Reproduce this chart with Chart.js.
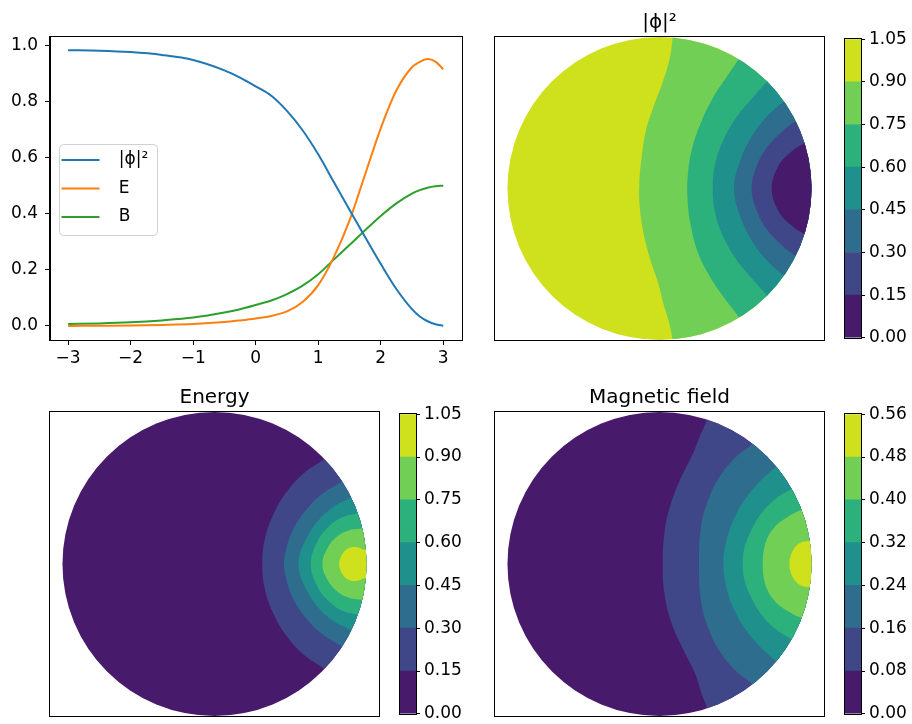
<!DOCTYPE html>
<html>
<head>
<meta charset="utf-8">
<script src="https://cdn.jsdelivr.net/npm/chart.js@4.4.1/dist/chart.umd.min.js"></script>
<style>
  body { margin: 0; background: #fff; }
  #fig { position: relative; width: 912px; height: 724px; overflow: hidden; }
  #fig canvas { position: absolute; }
</style>
</head>
<body>
<div id="fig">
  <canvas id="profileChart" width="470" height="372" style="left:0;top:0"></canvas>
  <canvas id="phiChart" width="333" height="341" style="left:493px;top:1px"></canvas>
  <canvas id="phiBar" width="78" height="327" style="left:843px;top:25px"></canvas>
  <canvas id="energyChart" width="333" height="342" style="left:48px;top:376px"></canvas>
  <canvas id="energyBar" width="78" height="328" style="left:398px;top:400px"></canvas>
  <canvas id="fieldChart" width="333" height="342" style="left:493px;top:376px"></canvas>
  <canvas id="fieldBar" width="78" height="328" style="left:843px;top:400px"></canvas>
</div>
<script>
Chart.defaults.font.family = "'DejaVu Sans', sans-serif";
Chart.defaults.font.size = 17;
Chart.defaults.color = '#000';
Chart.defaults.animation = false;

// profile along the real axis
const xs     = [-3, -2.5, -2, -1.5, -1, -0.5, -0.25, 0, 0.25, 0.5, 0.75, 1, 1.25, 1.5, 1.75, 2, 2.25, 2.5, 2.625, 2.75, 2.875, 3];
const phi2   = [0.985, 0.983, 0.978, 0.968, 0.950, 0.913, 0.887, 0.856, 0.822, 0.768, 0.699, 0.613, 0.514, 0.415, 0.318, 0.222, 0.132, 0.060, 0.034, 0.017, 0.006, 0.001];
const energy = [0.000, 0.001, 0.002, 0.004, 0.007, 0.014, 0.020, 0.027, 0.036, 0.052, 0.086, 0.146, 0.246, 0.376, 0.541, 0.706, 0.841, 0.924, 0.943, 0.953, 0.944, 0.917];
const field  = [0.007, 0.009, 0.013, 0.020, 0.030, 0.048, 0.060, 0.075, 0.091, 0.114, 0.144, 0.185, 0.237, 0.289, 0.342, 0.393, 0.438, 0.473, 0.485, 0.494, 0.499, 0.501];
const xTicks = [-3, -2, -1, 0, 1, 2, 3];
const yTicks = [0, 0.2, 0.4, 0.6, 0.8, 1.0];

// contour levels and band colours (viridis)
const levels      = [0, 0.15, 0.30, 0.45, 0.60, 0.75, 0.90, 1.05];
const fieldLevels = [0, 0.08, 0.16, 0.24, 0.32, 0.40, 0.48, 0.56];
const bandColors  = ['#481a6c', '#3f4788', '#2e6d8e', '#20908c', '#2cb17d', '#72cf55', '#cfe11c'];

// contour boundaries in the unit disk, top to bottom
// |phi|^2 : 0.90, 0.75, 0.60, 0.45, 0.30, 0.15
const phiCurves = [
  [[0.10,1.12],[0.087,1.0],[0.069,0.868],[0.025,0.714],[-0.04,0.538],[-0.089,0.385],[-0.117,0.209],[-0.133,0.033],[-0.128,-0.143],[-0.095,-0.341],[-0.052,-0.495],[-0.008,-0.626],[0.025,-0.758],[0.058,-0.868],[0.087,-1.0],[0.10,-1.12]],
  [[0.597,0.979],[0.519,0.851],[0.442,0.736],[0.354,0.604],[0.270,0.429],[0.212,0.253],[0.186,0.085],[0.184,-0.060],[0.203,-0.231],[0.255,-0.429],[0.332,-0.582],[0.420,-0.714],[0.519,-0.846],[0.597,-0.973]],
  [[0.81,0.81],[0.705,0.703],[0.617,0.604],[0.508,0.473],[0.420,0.319],[0.367,0.165],[0.350,0],[0.367,-0.165],[0.420,-0.319],[0.508,-0.473],[0.617,-0.604],[0.705,-0.703],[0.81,-0.81]],
  [[0.94,0.66],[0.815,0.571],[0.705,0.473],[0.606,0.341],[0.532,0.187],[0.490,0],[0.532,-0.187],[0.606,-0.341],[0.705,-0.473],[0.815,-0.571],[0.94,-0.66]],
  [[1.02,0.51],[0.891,0.440],[0.793,0.363],[0.694,0.253],[0.630,0.121],[0.606,0],[0.630,-0.121],[0.694,-0.253],[0.793,-0.363],[0.891,-0.440],[1.02,-0.51]],
  [[1.09,0.34],[0.951,0.297],[0.859,0.236],[0.782,0.148],[0.738,0],[0.782,-0.148],[0.859,-0.236],[0.951,-0.297],[1.09,-0.34]]
];
// energy : 0.15, 0.30, 0.45, 0.60, 0.75, 0.90
const energyCurves = [
  [[0.82,0.79],[0.716,0.687],[0.589,0.599],[0.469,0.467],[0.381,0.313],[0.330,0.159],[0.314,0],[0.330,-0.159],[0.381,-0.313],[0.469,-0.467],[0.589,-0.599],[0.716,-0.687],[0.82,-0.79]],
  [[0.96,0.62],[0.835,0.540],[0.716,0.467],[0.603,0.357],[0.516,0.225],[0.470,0.093],[0.457,0],[0.470,-0.093],[0.516,-0.225],[0.603,-0.357],[0.716,-0.467],[0.835,-0.540],[0.96,-0.62]],
  [[1.03,0.50],[0.897,0.434],[0.787,0.379],[0.677,0.280],[0.600,0.159],[0.563,0.072],[0.552,0],[0.563,-0.072],[0.600,-0.159],[0.677,-0.280],[0.787,-0.379],[0.897,-0.434],[1.03,-0.50]],
  [[1.09,0.385],[0.945,0.335],[0.831,0.302],[0.732,0.225],[0.666,0.126],[0.633,0],[0.666,-0.126],[0.732,-0.225],[0.831,-0.302],[0.945,-0.335],[1.09,-0.385]],
  [[1.12,0.27],[0.978,0.236],[0.897,0.225],[0.809,0.182],[0.743,0.104],[0.710,0],[0.743,-0.104],[0.809,-0.182],[0.897,-0.225],[0.978,-0.236],[1.12,-0.27]],
  [[1.1,0.11],[0.991,0.094],[0.941,0.111],[0.886,0.105],[0.842,0.067],[0.820,0],[0.842,-0.067],[0.886,-0.105],[0.941,-0.111],[0.991,-0.094],[1.1,-0.11]]
];
// magnetic field : 0.08, 0.16, 0.24, 0.32, 0.40, 0.48
const fieldCurves = [
  [[0.362,1.098],[0.315,0.955],[0.266,0.841],[0.212,0.709],[0.135,0.555],[0.069,0.379],[0.032,0.203],[0.021,0.006],[0.032,-0.192],[0.080,-0.390],[0.157,-0.566],[0.234,-0.720],[0.277,-0.852],[0.315,-0.950],[0.362,-1.098]],
  [[0.705,0.912],[0.613,0.793],[0.508,0.709],[0.398,0.577],[0.321,0.423],[0.273,0.247],[0.260,0],[0.273,-0.247],[0.321,-0.423],[0.398,-0.577],[0.508,-0.709],[0.613,-0.793],[0.705,-0.912]],
  [[0.88,0.734],[0.766,0.638],[0.683,0.566],[0.584,0.456],[0.497,0.313],[0.442,0.159],[0.420,0],[0.442,-0.159],[0.497,-0.313],[0.584,-0.456],[0.683,-0.566],[0.766,-0.638],[0.88,-0.734]],
  [[1.0,0.567],[0.869,0.493],[0.771,0.434],[0.672,0.335],[0.595,0.203],[0.556,0.093],[0.547,0],[0.556,-0.093],[0.595,-0.203],[0.672,-0.335],[0.771,-0.434],[0.869,-0.493],[1.0,-0.567]],
  [[1.075,0.41],[0.935,0.357],[0.848,0.313],[0.760,0.247],[0.705,0.160],[0.683,0.071],[0.679,0],[0.683,-0.071],[0.705,-0.160],[0.760,-0.247],[0.848,-0.313],[0.935,-0.357],[1.075,-0.41]],
  [[1.13,0.176],[0.986,0.153],[0.924,0.138],[0.880,0.094],[0.859,0.039],[0.854,0],[0.859,-0.039],[0.880,-0.094],[0.924,-0.138],[0.986,-0.153],[1.13,-0.176]]
];
const outside    = [[1.3, -1.3], [1.3, 1.3]];
const everywhere = [[-1.3, 1.3], [-1.3, -1.3], [1.3, -1.3], [1.3, 1.3]];

// black box round the plot area
const frame = {
  id: 'frame',
  afterDraw(chart) {
    const {ctx, chartArea: a} = chart;
    ctx.save();
    ctx.strokeStyle = '#000';
    ctx.lineWidth = 1;
    ctx.strokeRect(Math.round(a.left) - 0.5, Math.round(a.top) - 0.5,
                   Math.round(a.right - a.left) + 1, Math.round(a.bottom - a.top) + 1);
    ctx.restore();
  }
};

// only paint inside the unit circle
const diskClip = {
  id: 'diskClip',
  beforeDatasetsDraw(chart) {
    const {ctx, scales: {x, y}} = chart;
    const cx = x.getPixelForValue(0), cy = y.getPixelForValue(0);
    ctx.save();
    ctx.beginPath();
    ctx.ellipse(cx, cy, x.getPixelForValue(1) - cx, cy - y.getPixelForValue(1), 0, 0, 2 * Math.PI);
    ctx.clip();
  },
  afterDatasetsDraw(chart) {
    chart.ctx.restore();
  }
};

// matplotlib style box round the legend
const legendFrame = {
  id: 'legendFrame',
  afterDraw(chart) {
    const boxes = chart.legend && chart.legend.legendHitBoxes;
    if (!boxes || !boxes.length) return;
    const l = Math.min(...boxes.map(b => b.left)) - 3;
    const t = Math.min(...boxes.map(b => b.top)) - 8;
    const r = Math.max(...boxes.map(b => b.left + b.width)) + 8;
    const btm = Math.max(...boxes.map(b => b.top + b.height)) + 9;
    const ctx = chart.ctx;
    ctx.save();
    ctx.strokeStyle = '#d0d0d0';
    ctx.lineWidth = 1;
    ctx.beginPath();
    ctx.roundRect(Math.round(l) + 0.5, Math.round(t) + 0.5, Math.round(r - l), Math.round(btm - t), 4);
    ctx.stroke();
    ctx.restore();
  }
};

function profileSet(label, values, color) {
  return {
    label: label,
    data: xs.map((x, i) => ({x: x, y: values[i]})),
    borderColor: color,
    backgroundColor: color,
    borderWidth: 2,
    pointRadius: 0,
    fill: false,
    cubicInterpolationMode: 'monotone'
  };
}

new Chart(document.getElementById('profileChart'), {
  type: 'line',
  data: {
    datasets: [
      profileSet('|ϕ|²', phi2, '#1f77b4'),
      profileSet('E', energy, '#ff7f0e'),
      profileSet('B', field, '#2ca02c')
    ]
  },
  options: {
    responsive: false,
    events: [],
    layout: {padding: {top: 37, right: 8}},
    scales: {
      x: {
        type: 'linear', min: -3.29, max: 3.3,
        afterBuildTicks: s => { s.ticks = xTicks.map(v => ({value: v})); },
        afterFit: s => { s.height = 32; },
        ticks: {padding: 3, callback: v => String(v).replace('-', '\u2212')},
        grid: {drawOnChartArea: false, tickLength: 5, tickColor: '#000'},
        border: {color: '#000'}
      },
      y: {
        min: -0.05, max: 1.032,
        afterBuildTicks: s => { s.ticks = yTicks.map(v => ({value: v})); },
        afterFit: s => { s.width = 50; },
        ticks: {padding: 7, callback: v => v.toFixed(1)},
        grid: {drawOnChartArea: false, tickLength: 5, tickColor: '#000'},
        border: {color: '#000'}
      }
    },
    plugins: {
      tooltip: {enabled: false},
      legend: {
        position: 'chartArea',
        // empty title only pushes the entries down to the middle of the axes
        title: {display: true, text: '', font: {size: 17}, padding: {top: 0, bottom: 53.6}},
        labels: {
          usePointStyle: true, pointStyle: 'line', pointStyleWidth: 38, padding: 11.5, color: '#000',
          generateLabels: chart => Chart.defaults.plugins.legend.labels.generateLabels(chart)
            .map(item => Object.assign(item, {text: '  ' + item.text}))
        }
      }
    }
  },
  plugins: [frame, legendFrame]
});

function diskChart(id, title, curves, colors) {
  // colors[0] fills the disk, colors[i + 1] everything right of curves[i]
  const shapes = [everywhere].concat(curves.map(c => c.concat(outside)));
  new Chart(document.getElementById(id), {
    type: 'line',
    data: {
      datasets: shapes.map((pts, i) => ({
        data: pts.map(p => ({x: p[0], y: p[1]})),
        fill: 'shape',
        backgroundColor: colors[i],
        borderColor: 'rgba(0,0,0,0)',
        borderWidth: 0,
        pointRadius: 0,
        tension: 0.4,
        order: shapes.length - i
      }))
    },
    options: {
      responsive: false,
      events: [],
      elements: {line: {capBezierPoints: false}},
      layout: {padding: {left: 2, right: 2, bottom: 2}},
      scales: {
        x: {type: 'linear', display: false, min: -1.082, max: 1.082},
        y: {display: false, min: -1, max: 1}
      },
      plugins: {
        legend: {display: false},
        tooltip: {enabled: false},
        title: {display: true, text: title, color: '#000', font: {size: 20, weight: 'normal'}, padding: {top: 10, bottom: 2}}
      }
    },
    plugins: [diskClip, frame]
  });
}

function colorBar(id, lv, colors) {
  new Chart(document.getElementById(id), {
    type: 'bar',
    data: {
      labels: [''],
      datasets: colors.map((c, i) => ({
        data: [[lv[i], lv[i + 1]]],
        backgroundColor: c,
        borderWidth: 0,
        grouped: false,
        barPercentage: 1,
        categoryPercentage: 1
      }))
    },
    options: {
      responsive: false,
      events: [],
      layout: {padding: {left: 2, top: 12, bottom: 12}},
      scales: {
        x: {display: false},
        y: {
          position: 'right', min: lv[0], max: lv[lv.length - 1],
          afterBuildTicks: s => { s.ticks = lv.map(v => ({value: v})); },
          afterFit: s => { s.width = 60; },
          ticks: {padding: 4, callback: v => v.toFixed(2)},
          grid: {drawOnChartArea: false, tickLength: 4, tickColor: '#000'},
          border: {color: '#000'}
        }
      },
      plugins: {legend: {display: false}, tooltip: {enabled: false}}
    },
    plugins: [frame]
  });
}

diskChart('phiChart', '|ϕ|²', phiCurves, bandColors.slice().reverse());
diskChart('energyChart', 'Energy', energyCurves, bandColors);
diskChart('fieldChart', 'Magnetic field', fieldCurves, bandColors);
colorBar('phiBar', levels, bandColors);
colorBar('energyBar', levels, bandColors);
colorBar('fieldBar', fieldLevels, bandColors);
</script>
</body>
</html>
